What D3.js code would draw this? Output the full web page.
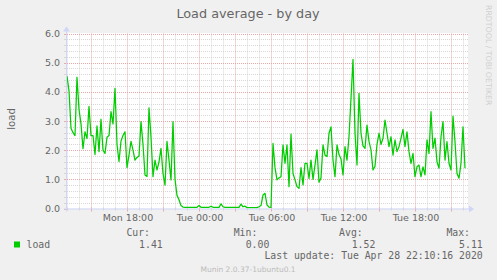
<!DOCTYPE html>
<html><head><meta charset="utf-8">
<script src="https://cdn.jsdelivr.net/npm/d3@7"></script>
<style>html,body{margin:0;padding:0;background:#f0f0f0;} svg{display:block;}</style>
</head><body>
<svg id="c" width="497" height="280"></svg>
<script>
// ---------- data ----------
const title = "Load average - by day";
const yLabel = "load";
const seriesName = "load";
const startTime = "2020-04-27T12:57:30Z";
const endTime = "2020-04-28T22:17:30Z";
const stepMinutes = 10;
const loadValues = [
 4.54,4.03,2.75,2.6,2.5,4.5,3.4,2.9,2.05,2.63,
 2.4,3.5,2.5,2.5,1.85,2.83,1.95,3.06,2.0,1.89,
 2.44,2.5,3.32,2.9,4.12,2.2,1.61,2.31,2.5,2.63,
 1.4,1.83,2.3,2.0,1.66,1.75,1.8,2.98,2.2,1.15,
 1.1,3.45,2.45,1.09,1.66,1.32,1.6,2.06,1.2,0.8,
 2.3,1.66,0.98,2.98,1.0,0.45,0.3,0.1,0.05,0.04,
 0.04,0.04,0.04,0.04,0.04,0.04,0.1,0.04,0.04,0.04,
 0.04,0.04,0.08,0.04,0.04,0.04,0.04,0.16,0.06,0.04,
 0.04,0.04,0.04,0.04,0.04,0.04,0.04,0.15,0.06,0.08,
 0.03,0.03,0.03,0.03,0.03,0.03,0.06,0.1,0.46,0.52,
 0.12,0.05,0.04,2.23,1.4,0.98,1.05,1.09,2.18,1.55,
 2.18,0.75,2.55,1.2,0.98,0.75,0.69,1.4,0.81,1.55,
 1.55,1.03,1.66,1.0,1.49,2.01,0.9,1.05,2.18,1.83,
 1.78,2.58,2.8,1.66,1.09,2.18,1.85,1.7,1.15,2.12,
 1.66,2.46,3.78,5.11,2.58,1.49,3.95,2.58,2.15,2.06,
 2.86,2.3,2.01,1.32,1.45,2.2,2.58,2.2,2.41,3.03,
 2.58,2.12,2.46,1.83,2.35,1.95,2.12,2.41,2.71,2.12,
 2.63,1.95,1.55,1.89,1.09,1.43,1.49,1.09,1.43,1.15,
 2.35,1.89,3.32,2.06,2.41,1.6,1.38,2.46,2.98,1.66,
 2.29,1.55,1.32,3.17,2.29,1.2,1.04,1.55,2.8,1.38
];
const yTicks = [0,1,2,3,4,5,6];
const legendHeaders = ["Cur:","Min:","Avg:","Max:"];
const legendValues = ["1.41","0.00","1.52","5.11"];
const lastUpdate = "Last update: Tue Apr 28 22:10:16 2020";
const credit = "Munin 2.0.37-1ubuntu0.1";
const vendor = "RRDTOOL / TOBI OETIKER";

// ---------- drawing ----------
const svg = d3.select("#c");
const L = 67, R = 467, T = 33.5, B = 208.5;
const t0 = new Date(startTime), t1 = new Date(endTime);
const x = d3.scaleUtc().domain([t0, t1]).range([L, R]);
const y = d3.scaleLinear().domain([0, 6]).range([B, T]);
const data = loadValues.map((v, i) => ({t: new Date(t0.getTime() + i * stepMinutes * 60000), v}));

const FONT = "DejaVu Sans, sans-serif";
const MONO = "DejaVu Sans Mono, monospace";
const textCol = "#666666";
const axisCol = "#cfd6f8";
const minorCol = "#d6d6d6";
const majorCol = "#eba8a8";

svg.append("rect").attr("width", 497).attr("height", 280).attr("fill", "#f0f0f0");
svg.append("rect").attr("x", L).attr("y", T - 0.5).attr("width", R - L + 1).attr("height", B - T + 0.5).attr("fill", "#ffffff");

const g = svg.append("g");
// minor horizontal grid (every 0.2)
const yMinor = d3.range(0, 31).map(i => i * 0.2).filter(v => Math.abs(v - Math.round(v)) > 1e-6);
g.selectAll(".hm").data(yMinor).join("line")
  .attr("x1", L).attr("x2", R + 1)
  .attr("y1", d => Math.round(y(d)) + 0.5).attr("y2", d => Math.round(y(d)) + 0.5)
  .attr("stroke", minorCol).attr("stroke-dasharray", "1,1");
// minor vertical grid (every hour)
const hours = d3.utcHour.range(t0, t1);
g.selectAll(".vm").data(hours.filter(h => h.getUTCHours() % 3 !== 0)).join("line")
  .attr("x1", d => Math.floor(x(d)) + 0.5).attr("x2", d => Math.floor(x(d)) + 0.5)
  .attr("y1", T).attr("y2", B)
  .attr("stroke", minorCol).attr("stroke-dasharray", "1,1");
// major vertical grid (every 3 hours)
const majors = d3.utcHour.every(3).range(t0, t1);
g.selectAll(".vM").data(majors).join("line")
  .attr("x1", d => Math.floor(x(d)) + 0.5).attr("x2", d => Math.floor(x(d)) + 0.5)
  .attr("y1", T).attr("y2", B)
  .attr("stroke", majorCol).attr("stroke-dasharray", "1,1");
// major horizontal grid
g.selectAll(".hM").data(yTicks.filter(v => v > 0)).join("line")
  .attr("x1", L).attr("x2", R + 1)
  .attr("y1", d => Math.round(y(d)) + 0.5).attr("y2", d => Math.round(y(d)) + 0.5)
  .attr("stroke", majorCol).attr("stroke-dasharray", "1,1");

// ticks on axes
g.selectAll(".xt").data(hours).join("line")
  .attr("x1", d => Math.floor(x(d)) + 0.5).attr("x2", d => Math.floor(x(d)) + 0.5)
  .attr("y1", B - 1).attr("y2", d => d.getUTCHours() % 3 === 0 ? B + 3 : B + 2)
  .attr("stroke", d => d.getUTCHours() % 3 === 0 ? majorCol : minorCol);
g.selectAll(".yt").data(d3.range(0, 31).map(i => i * 0.2)).join("line")
  .attr("x1", L - 3).attr("x2", L + 1)
  .attr("y1", d => Math.round(y(d)) + 0.5).attr("y2", d => Math.round(y(d)) + 0.5)
  .attr("stroke", (d, i) => i % 5 === 0 ? majorCol : minorCol);

// data line
const line = d3.line().x(d => x(d.t)).y(d => y(d.v));
svg.append("path").datum(data).attr("d", line)
  .attr("fill", "none").attr("stroke", "#00cc00").attr("stroke-width", 1.25)
  .attr("stroke-linejoin", "round");

// axes
svg.append("line").attr("x1", L - 3).attr("x2", R + 4).attr("y1", B + 0.5).attr("y2", B + 0.5).attr("stroke", axisCol);
svg.append("line").attr("x1", L - 0.5).attr("x2", L - 0.5).attr("y1", B + 3).attr("y2", T - 4).attr("stroke", axisCol);
svg.append("path").attr("d", `M${R + 2},${B - 3} L${R + 7},${B + 0.5} L${R + 2},${B + 4} Z`).attr("fill", axisCol);
svg.append("path").attr("d", `M${L - 4},${T - 2} L${L - 0.5},${T - 7} L${L + 3},${T - 2} Z`).attr("fill", axisCol);

// y tick labels
svg.selectAll(".yl").data(yTicks).join("text")
  .attr("x", 60).attr("y", d => y(d) + 3.6)
  .attr("text-anchor", "end").attr("font-family", FONT).attr("font-size", 9.5)
  .attr("fill", textCol).text(d3.format(".1f"));
// x tick labels
const labelTimes = d3.utcHour.every(6).range(t0, t1);
svg.selectAll(".xl").data(labelTimes).join("text")
  .attr("x", d => x(d) + 0.5).attr("y", 220.5)
  .attr("text-anchor", "middle").attr("font-family", FONT).attr("font-size", 9.5)
  .attr("fill", textCol).text(d3.utcFormat("%a %H:%M"));

// title
svg.append("text").attr("x", 248).attr("y", 18.3).attr("text-anchor", "middle")
  .attr("font-family", FONT).attr("font-size", 12.8).attr("fill", textCol).text(title);
// y label
svg.append("text").attr("transform", "translate(15,119) rotate(-90)").attr("text-anchor", "middle")
  .attr("font-family", FONT).attr("font-size", 10.1).attr("fill", textCol).text(yLabel);
// vendor
svg.append("text").attr("transform", "translate(485.5,5) rotate(90)").attr("text-anchor", "start")
  .attr("font-family", FONT).attr("font-size", 7.8).attr("fill", "#d0d0d0").text(vendor);

// legend
const headerX = [150, 257.3, 362.7, 470];
const valueX = [162.7, 269.3, 375.3, 482.7];
svg.selectAll(".lh").data(legendHeaders).join("text")
  .attr("x", (d, i) => headerX[i]).attr("y", 236).attr("text-anchor", "end")
  .attr("font-family", MONO).attr("font-size", 9.8).attr("fill", textCol).text(d => d);
svg.append("rect").attr("x", 14).attr("y", 241.5).attr("width", 6).attr("height", 6).attr("fill", "#00cc00");
svg.append("text").attr("x", 26.5).attr("y", 247.7)
  .attr("font-family", MONO).attr("font-size", 9.8).attr("fill", textCol).text(seriesName);
svg.selectAll(".lv").data(legendValues).join("text")
  .attr("x", (d, i) => valueX[i]).attr("y", 247.7).attr("text-anchor", "end")
  .attr("font-family", MONO).attr("font-size", 9.8).attr("fill", textCol).text(d => d);
svg.append("text").attr("x", 482.7).attr("y", 259.3).attr("text-anchor", "end")
  .attr("font-family", MONO).attr("font-size", 9.8).attr("fill", textCol).text(lastUpdate);
svg.append("text").attr("x", 248).attr("y", 272).attr("text-anchor", "middle")
  .attr("font-family", FONT).attr("font-size", 7.5).attr("fill", "#bbbbbb").text(credit);
</script>
</body></html>
